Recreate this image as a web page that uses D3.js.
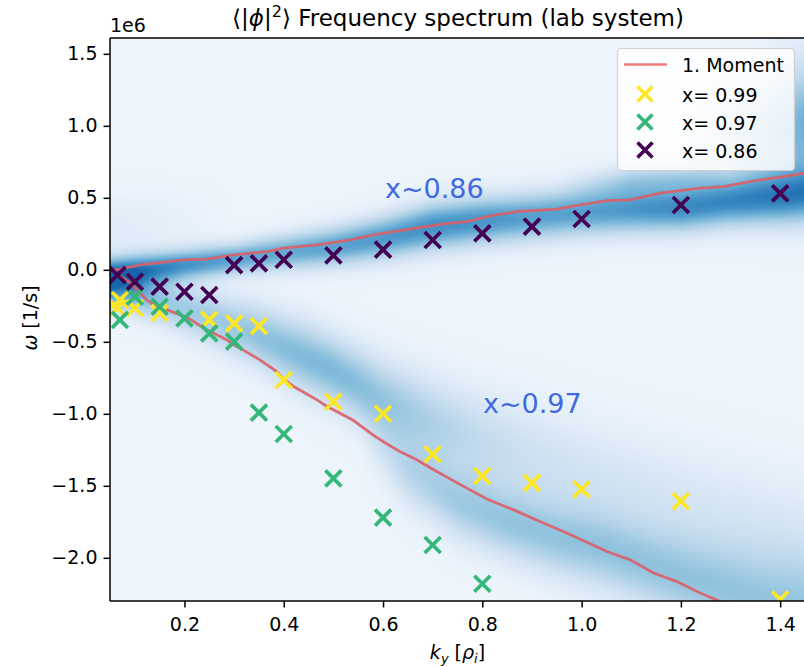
<!DOCTYPE html>
<html>
<head>
<meta charset="utf-8">
<script src="https://cdn.jsdelivr.net/npm/d3@7"></script>
<style>
  body { margin: 0; background: #fff; }
  svg { display: block; }
  text { font-family: "DejaVu Sans", sans-serif; fill: #000; }
</style>
</head>
<body>
<svg id="chart" width="804" height="666"></svg>
<script>
// ---- axis ticks ----
const kTicks = [0.2, 0.4, 0.6, 0.8, 1.0, 1.2, 1.4];
const omegaTicks = [-2.0, -1.5, -1.0, -0.5, 0.0, 0.5, 1.0, 1.5];

// ---- measured frequencies (units of 1e6 1/s) ----
const seriesNames = ["x= 0.99", "x= 0.97", "x= 0.86"];
const seriesColors = ["#fde725", "#35b779", "#440154"];

const k099 = [0.065, 0.07, 0.1, 0.15, 0.25, 0.3, 0.35, 0.4, 0.5, 0.6, 0.7, 0.8, 0.9, 1.0, 1.2, 1.4];
const w099 = [-0.265, -0.21, -0.265, -0.30, -0.348, -0.372, -0.39, -0.765, -0.916, -1.0, -1.281, -1.432, -1.48, -1.524, -1.606, -2.29];

const k097 = [0.07, 0.1, 0.15, 0.2, 0.25, 0.3, 0.35, 0.4, 0.5, 0.6, 0.7, 0.8];
const w097 = [-0.348, -0.187, -0.256, -0.337, -0.441, -0.499, -0.992, -1.14, -1.448, -1.721, -1.911, -2.18];

const k086 = [0.065, 0.1, 0.15, 0.2, 0.25, 0.3, 0.35, 0.4, 0.5, 0.6, 0.7, 0.8, 0.9, 1.0, 1.2, 1.4];
const w086 = [-0.036, -0.083, -0.117, -0.152, -0.175, 0.033, 0.045, 0.07, 0.1, 0.14, 0.207, 0.253, 0.3, 0.353, 0.45, 0.531];

// ---- first moment of the spectrum, two branches ----
const momentUpperK = [0.055, 0.111, 0.198, 0.245, 0.299, 0.366, 0.399, 0.467, 0.534, 0.581, 0.634, 0.722, 0.769, 0.816, 0.870, 0.950, 0.997, 1.051, 1.098, 1.158, 1.239, 1.286, 1.339, 1.406, 1.45];
const momentUpperW = [-0.005, 0.035, 0.069, 0.074, 0.104, 0.127, 0.151, 0.174, 0.208, 0.243, 0.273, 0.319, 0.335, 0.375, 0.405, 0.421, 0.451, 0.481, 0.486, 0.533, 0.567, 0.578, 0.613, 0.648, 0.672];
const momentLowerK = [0.055, 0.091, 0.124, 0.138, 0.165, 0.205, 0.245, 0.285, 0.299, 0.312, 0.352, 0.386, 0.400, 0.420, 0.467, 0.487, 0.500, 0.540, 0.581, 0.608, 0.634, 0.668, 0.702, 0.755, 0.809, 0.863, 0.916, 0.970, 1.051, 1.098, 1.145, 1.192, 1.239, 1.276, 1.32];
const momentLowerW = [-0.005, -0.092, -0.208, -0.243, -0.278, -0.33, -0.417, -0.486, -0.52, -0.544, -0.625, -0.706, -0.76, -0.81, -0.903, -0.949, -0.972, -1.045, -1.15, -1.21, -1.262, -1.319, -1.389, -1.49, -1.592, -1.667, -1.748, -1.828, -1.956, -2.014, -2.106, -2.165, -2.245, -2.299, -2.37];

// ---- spectral power ridges: position, spread and level along k_y ----
const ridgeUpperK   = [0.05, 0.1, 0.2, 0.3, 0.4, 0.5, 0.6, 0.7, 0.8, 0.9, 1.0, 1.1, 1.2, 1.3, 1.4, 1.45];
const ridgeUpperW   = [-0.03, -0.01, 0.035, 0.075, 0.12, 0.16, 0.22, 0.3, 0.34, 0.37, 0.4, 0.42, 0.43, 0.47, 0.5, 0.52];
const ridgeUpperSig = [0.08, 0.08, 0.075, 0.075, 0.085, 0.095, 0.105, 0.115, 0.115, 0.115, 0.115, 0.115, 0.115, 0.115, 0.125, 0.135];
const ridgeUpperAmp = [0.66, 0.64, 0.56, 0.5, 0.47, 0.5, 0.54, 0.58, 0.56, 0.51, 0.51, 0.55, 0.6, 0.57, 0.56, 0.56];

const ridgeShoulderK   = [0.95, 1.1, 1.2, 1.3];
const ridgeShoulderW   = [0.58, 0.62, 0.64, 0.66];
const ridgeShoulderSig = [0.07, 0.07, 0.07, 0.07];
const ridgeShoulderAmp = [0.0, 0.22, 0.22, 0.0];

const ridgeCornerK   = [1.2, 1.3, 1.4, 1.45];
const ridgeCornerW   = [0.75, 0.85, 0.95, 1.0];
const ridgeCornerSig = [0.2, 0.25, 0.3, 0.3];
const ridgeCornerAmp = [0.0, 0.18, 0.36, 0.45];

const ridgeHazeK   = [0.05, 0.15, 0.3];
const ridgeHazeW   = [0.28, 0.3, 0.35];
const ridgeHazeSig = [0.15, 0.15, 0.15];
const ridgeHazeAmp = [0.07, 0.05, 0.0];

const ridgeLowAK   = [0.05, 0.1, 0.15, 0.2, 0.25, 0.3, 0.35, 0.4, 0.45, 0.5, 0.55, 0.6, 0.7, 0.8, 0.9, 1.0, 1.2, 1.45];
const ridgeLowAW   = [-0.15, -0.16, -0.21, -0.27, -0.33, -0.4, -0.46, -0.54, -0.62, -0.7, -0.8, -0.9, -1.06, -1.2, -1.32, -1.44, -1.65, -1.9];
const ridgeLowASig = [0.09, 0.1, 0.11, 0.12, 0.13, 0.14, 0.15, 0.16, 0.17, 0.17, 0.18, 0.19, 0.21, 0.23, 0.25, 0.26, 0.28, 0.3];
const ridgeLowAAmp = [0.45, 0.42, 0.34, 0.31, 0.31, 0.33, 0.36, 0.38, 0.4, 0.4, 0.38, 0.34, 0.27, 0.2, 0.16, 0.14, 0.12, 0.11];

const ridgeLowBK   = [0.55, 0.65, 0.75, 0.85, 0.95, 1.05, 1.15, 1.25, 1.35, 1.45];
const ridgeLowBW   = [-1.1, -1.4, -1.62, -1.76, -1.87, -1.96, -2.08, -2.2, -2.3, -2.38];
const ridgeLowBSig = [0.16, 0.17, 0.17, 0.17, 0.18, 0.19, 0.2, 0.22, 0.24, 0.26];
const ridgeLowBAmp = [0.0, 0.22, 0.3, 0.33, 0.33, 0.33, 0.33, 0.33, 0.32, 0.31];

const ridges = [
  [ridgeUpperK, ridgeUpperW, ridgeUpperSig, ridgeUpperAmp],
  [ridgeShoulderK, ridgeShoulderW, ridgeShoulderSig, ridgeShoulderAmp],
  [ridgeCornerK, ridgeCornerW, ridgeCornerSig, ridgeCornerAmp],
  [ridgeHazeK, ridgeHazeW, ridgeHazeSig, ridgeHazeAmp],
  [ridgeLowAK, ridgeLowAW, ridgeLowASig, ridgeLowAAmp],
  [ridgeLowBK, ridgeLowBW, ridgeLowBSig, ridgeLowBAmp]
];
const floorLevel = 0.05;

// ---- layout ----
const svg = d3.select("#chart");
const plot = { left: 110, top: 38, right: 805, bottom: 601 };

const x = d3.scaleLinear().domain([0.05, 1.45]).range([plot.left, plot.right]);
const y = d3.scaleLinear().domain([-2.3, 1.61]).range([plot.bottom, plot.top]);

svg.append("defs").append("clipPath").attr("id", "plotClip")
  .append("rect")
  .attr("x", plot.left).attr("y", plot.top)
  .attr("width", plot.right - plot.left).attr("height", plot.bottom - plot.top);

// ---- spectrum image ----
(function drawSpectrum() {
  const W = plot.right - plot.left, H = plot.bottom - plot.top;
  const canvas = document.createElement("canvas");
  canvas.width = W; canvas.height = H;
  const ctx = canvas.getContext("2d");
  const img = ctx.createImageData(W, H);
  const lut = d3.range(256).map(i => d3.rgb(d3.interpolateBlues(i / 255)));
  const interp = ridges.map(([ks, ws, ss, as]) => ({
    c: d3.scaleLinear().domain(ks).range(ws).clamp(true),
    s: d3.scaleLinear().domain(ks).range(ss).clamp(true),
    a: d3.scaleLinear().domain(ks).range(as).clamp(true)
  }));
  for (let i = 0; i < W; i++) {
    const k = x.invert(plot.left + i + 0.5);
    const params = interp.map(r => [r.c(k), r.s(k), r.a(k)]);
    for (let j = 0; j < H; j++) {
      const w = y.invert(plot.top + j + 0.5);
      let v = floorLevel;
      for (const [c, s, a] of params) {
        const d = (w - c) / s;
        v += a * Math.exp(-0.5 * d * d);
      }
      v = Math.max(0, Math.min(0.8, v));
      const col = lut[Math.round(v * 255)];
      const p = (j * W + i) * 4;
      img.data[p] = col.r; img.data[p + 1] = col.g; img.data[p + 2] = col.b; img.data[p + 3] = 255;
    }
  }
  ctx.putImageData(img, 0, 0);
  svg.append("image")
    .attr("x", plot.left).attr("y", plot.top)
    .attr("width", W).attr("height", H)
    .attr("preserveAspectRatio", "none")
    .attr("href", canvas.toDataURL());
})();

// ---- moment lines ----
const lineGen = d3.line().x(d => x(d[0])).y(d => y(d[1]));
const lines = svg.append("g").attr("clip-path", "url(#plotClip)");
[[momentUpperK, momentUpperW], [momentLowerK, momentLowerW]].forEach(([ks, ws]) => {
  lines.append("path")
    .datum(d3.zip(ks, ws))
    .attr("d", lineGen)
    .attr("fill", "none")
    .attr("stroke", "#dc5f68")
    .attr("stroke-opacity", 0.9)
    .attr("stroke-width", 2.8);
});

// ---- scatter markers ----
const xMark = h => `M${-h},${-h}L${h},${h}M${-h},${h}L${h},${-h}`;
const markers = svg.append("g").attr("clip-path", "url(#plotClip)");
[[k099, w099], [k097, w097], [k086, w086]].forEach(([ks, ws], si) => {
  markers.append("g").selectAll("path")
    .data(d3.zip(ks, ws))
    .join("path")
    .attr("transform", d => `translate(${x(d[0])},${y(d[1])})`)
    .attr("d", xMark(8))
    .attr("fill", "none")
    .attr("stroke", seriesColors[si])
    .attr("stroke-width", 3.7);
});

// ---- annotations ----
svg.append("text").attr("x", 385).attr("y", 198)
  .style("font-size", "27px").style("fill", "#4169e1").text("x~0.86");
svg.append("text").attr("x", 483).attr("y", 413)
  .style("font-size", "27px").style("fill", "#4169e1").text("x~0.97");

// ---- axes ----
const xAxis = d3.axisBottom(x).tickValues(kTicks).tickFormat(d3.format(".1f")).tickSizeOuter(0).tickSize(6.5).tickPadding(5);
const yAxis = d3.axisLeft(y).tickValues(omegaTicks).tickFormat(d3.format(".1f")).tickSizeOuter(0).tickSize(6.5).tickPadding(6);

const gx = svg.append("g").attr("transform", `translate(0,${plot.bottom})`).call(xAxis);
const gy = svg.append("g").attr("transform", `translate(${plot.left},0)`).call(yAxis);
[gx, gy].forEach(g => {
  g.select(".domain").remove();
  g.selectAll(".tick line").attr("stroke", "#000").attr("stroke-width", 1.5);
  g.selectAll(".tick text").style("font-size", "19px").attr("fill", "#000");
});
gx.selectAll(".tick text").attr("dy", "0.95em");

// spines
svg.append("line").attr("x1", plot.left).attr("x2", plot.left).attr("y1", plot.top).attr("y2", plot.bottom)
  .attr("stroke", "#000").attr("stroke-width", 1.5);
svg.append("line").attr("x1", plot.left).attr("x2", plot.right).attr("y1", plot.bottom).attr("y2", plot.bottom)
  .attr("stroke", "#000").attr("stroke-width", 1.5);
svg.append("line").attr("x1", plot.left).attr("x2", plot.right).attr("y1", plot.top).attr("y2", plot.top)
  .attr("stroke", "#000").attr("stroke-width", 1.5);

// offset label
svg.append("text").attr("x", plot.left).attr("y", 32).style("font-size", "19px").text("1e6");

// title
const title = svg.append("text").attr("x", 458).attr("y", 26)
  .attr("text-anchor", "middle").style("font-size", "23px");
title.append("tspan").text("\u27E8|");
title.append("tspan").style("font-style", "italic").text("\u03D5");
title.append("tspan").text("|");
title.append("tspan").attr("dy", -9).style("font-size", "16px").text("2");
title.append("tspan").attr("dy", 9).text("\u27E9 Frequency spectrum (lab system)");

// x label
const xl = svg.append("text").attr("x", 457.5).attr("y", 659)
  .attr("text-anchor", "middle").style("font-size", "19px");
xl.append("tspan").style("font-style", "italic").text("k");
xl.append("tspan").attr("dy", 4).style("font-size", "13px").style("font-style", "italic").text("y");
xl.append("tspan").attr("dy", -4).text(" [");
xl.append("tspan").style("font-style", "italic").text("\u03C1");
xl.append("tspan").attr("dy", 4).style("font-size", "13px").style("font-style", "italic").text("i");
xl.append("tspan").attr("dy", -4).text("]");

// y label
const yl = svg.append("text").attr("transform", "translate(37,318) rotate(-90)")
  .attr("text-anchor", "middle").style("font-size", "19px");
yl.append("tspan").style("font-style", "italic").text("\u03C9");
yl.append("tspan").text(" [1/s]");

// ---- legend ----
const lg = svg.append("g");
lg.append("rect").attr("x", 617.5).attr("y", 48.5).attr("width", 177).attr("height", 122)
  .attr("rx", 4).attr("fill", "#fff").attr("fill-opacity", 0.8)
  .attr("stroke", "#d0d0d0").attr("stroke-width", 1.2);
lg.append("line").attr("x1", 624).attr("x2", 667).attr("y1", 64.5).attr("y2", 64.5)
  .attr("stroke", "#f07c7c").attr("stroke-width", 2.6);
lg.append("text").attr("x", 682).attr("y", 71.5).style("font-size", "19px").text("1. Moment");
const rowY = [94, 122, 150];
seriesNames.forEach((name, i) => {
  lg.append("path").attr("transform", `translate(645,${rowY[i]})`)
    .attr("d", xMark(7.5)).attr("fill", "none")
    .attr("stroke", seriesColors[i]).attr("stroke-width", 3.6);
  lg.append("text").attr("x", 682).attr("y", rowY[i] + 7.5).style("font-size", "19px").text(name);
});
</script>
</body>
</html>
